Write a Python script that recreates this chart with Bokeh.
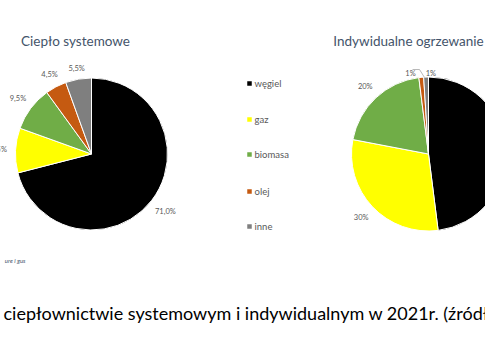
import math
from bokeh.plotting import figure
from bokeh.models import Range1d, ColumnDataSource
from bokeh.core.properties import value
from bokeh.embed import file_html
from bokeh.resources import INLINE

# ---- data ----
categories = ["węgiel", "gaz", "biomasa", "olej", "inne"]
colors = ["#000000", "#FFFF00", "#70AD47", "#C55A11", "#7F7F7F"]
system_values = [71.0, 9.5, 9.5, 4.5, 5.5]
system_labels = ["71,0%", "9,5%", "9,5%", "4,5%", "5,5%"]
indiv_values = [48, 30, 20, 1, 1]
indiv_labels = ["48%", "30%", "20%", "1%", "1%"]
title_left = "Ciepło systemowe"
title_right = "Indywidualne ogrzewanie"
caption = "ciepłownictwie systemowym i indywidualnym w 2021r. (źródło"
source_note = "ure i gus"

W, H = 485, 360
p = figure(width=W, height=H, output_backend="svg", toolbar_location=None,
           x_range=Range1d(0, W), y_range=Range1d(0, H),
           min_border=0, outline_line_color=None, background_fill_color="white")
p.axis.visible = False
p.grid.visible = False

def Y(py):  # screen pixel y -> data y
    return H - py

TXT = "#595959"
FONT = "Lato"

def pie(cx, cy, r, vals, labels, label_r, dx_adj, dy_adj):
    total = sum(vals)
    starts, ends, lx, ly = [], [], [], []
    cum = 0.0
    for i, v in enumerate(vals):
        a0 = math.pi / 2 - 2 * math.pi * cum / total
        cum += v
        a1 = math.pi / 2 - 2 * math.pi * cum / total
        starts.append(a0); ends.append(a1)
        mid = (a0 + a1) / 2
        lx.append(cx + label_r[i] * r * math.cos(mid) + dx_adj[i])
        ly.append(cy + label_r[i] * r * math.sin(mid) + dy_adj[i])
    src = ColumnDataSource(dict(s=starts, e=ends, c=colors, t=labels, x=lx, y=ly))
    p.wedge(x=cx, y=cy, radius=r, start_angle="s", end_angle="e", direction="clock",
            fill_color="c", line_color="white", line_width=1, source=src)
    p.text(x="x", y="y", text="t", source=src, text_font=value(FONT),
           text_font_size="7.5px", text_color=TXT, text_align="center",
           text_baseline="middle")

pie(91, Y(153.5), 76, system_values, system_labels,
    [1.23, 1.22, 1.21, 1.18, 1.14], [0, 0, 0, 0, 0], [0, 0, 0, 0, 0])
pie(428, Y(153.5), 77, indiv_values, indiv_labels,
    [1.22, 1.2, 1.2, 1.1, 1.1], [0, 0, 0, -10, 5], [0, 0, 0, -4, -4])
# leader line for small 'olej' slice
p.line(x=[412, 419, 424], y=[Y(69), Y(69), Y(77)], line_color="#A6A6A6", line_width=0.8)

# titles
p.text(x=[75, 408], y=[Y(40), Y(40)], text=[title_left, title_right],
       text_font=value(FONT), text_font_size="13.5px", text_color="#44546A",
       text_align="center", text_baseline="middle")

# legend
leg_y = [Y(83), Y(119), Y(154), Y(191), Y(226)]
p.scatter(x=[249] * 5, y=leg_y, marker="square", size=4.5, fill_color=colors, line_color=None)
p.text(x=[254] * 5, y=leg_y, text=categories, text_font=value(FONT),
       text_font_size="9.5px", text_color=TXT, text_align="left", text_baseline="middle")

# source note and caption
p.text(x=[25], y=[Y(260)], text=[source_note], text_font=value(FONT),
       text_font_size="6px", text_font_style="italic", text_color="#44546A",
       text_align="right", text_baseline="middle")
p.text(x=[3], y=[Y(312)], text=[caption], text_font=value(FONT),
       text_font_size="18px", text_color="#000000", text_align="left",
       text_baseline="middle")

open("out.html", "w").write(file_html(p, INLINE))
